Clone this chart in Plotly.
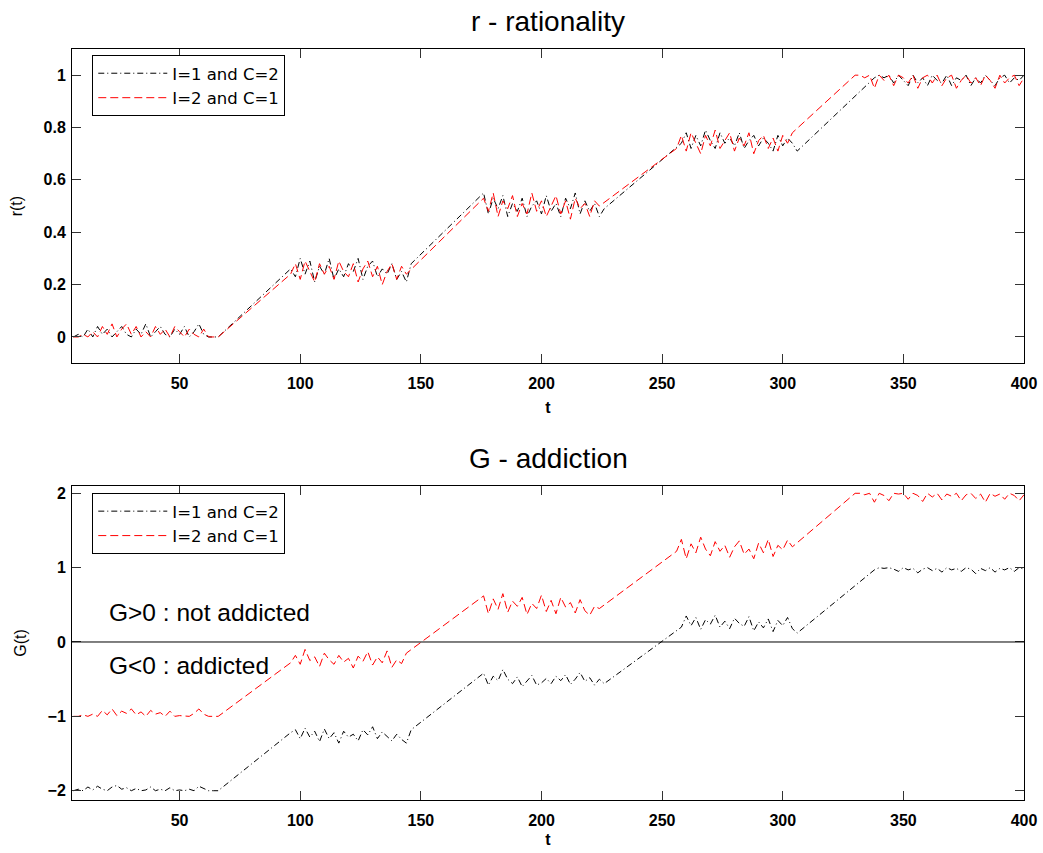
import plotly.graph_objects as go

# ---------------- data ----------------
T_BLACK = (list(range(6, 66, 2)) + [66] + list(range(96, 148, 2)) +
           list(range(176, 228, 2)) + list(range(258, 308, 2)) + list(range(338, 402, 2)))
T_RED = (list(range(6, 66, 2)) + [66] + list(range(96, 146, 2)) +
         list(range(176, 226, 2)) + list(range(256, 306, 2)) + list(range(330, 402, 2)))

R_BLACK = [
    0.00, 0.01, 0.00, 0.03, 0.00, 0.04, 0.01, 0.03, 0.00, 0.02, 0.04, 0.01, 0.00, 0.03, 0.01,
    0.05, 0.00, 0.02, 0.04, 0.01, 0.00, 0.03, 0.01, 0.04, 0.00, 0.02, 0.05, 0.01, 0.00, 0.00,
    0.00,
    0.26, 0.23, 0.30, 0.24, 0.29, 0.21, 0.27, 0.24, 0.30, 0.22, 0.26, 0.23, 0.28, 0.25, 0.30,
    0.22, 0.27, 0.29, 0.23, 0.26, 0.24, 0.28, 0.22, 0.25, 0.21, 0.28,
    0.55, 0.47, 0.53, 0.49, 0.54, 0.46, 0.51, 0.48, 0.53, 0.46, 0.50, 0.52, 0.47, 0.54, 0.48,
    0.51, 0.46, 0.53, 0.49, 0.55, 0.47, 0.52, 0.48, 0.51, 0.46, 0.49,
    0.74, 0.78, 0.72, 0.77, 0.73, 0.79, 0.75, 0.72, 0.78, 0.74, 0.76, 0.73, 0.78, 0.72, 0.75,
    0.77, 0.73, 0.76, 0.74, 0.71, 0.77, 0.73, 0.76, 0.74, 0.71,
    0.99, 1.00, 0.99, 1.00, 0.97, 1.00, 0.98, 0.96, 1.00, 0.97, 0.99, 0.96, 1.00, 0.98, 0.97,
    1.00, 0.96, 0.99, 0.98, 1.00, 0.96, 0.99, 0.97, 1.00, 0.98, 0.96, 0.99, 1.00, 0.97, 0.99,
    0.98, 1.00,
]
R_RED = [
    0.00, 0.00, 0.01, 0.00, 0.02, 0.00, 0.04, 0.01, 0.05, 0.00, 0.03, 0.05, 0.01, 0.04, 0.00,
    0.02, 0.00, 0.04, 0.01, 0.03, 0.00, 0.04, 0.02, 0.00, 0.03, 0.01, 0.00, 0.03, 0.00, 0.00,
    0.00,
    0.24, 0.28, 0.22, 0.29, 0.25, 0.21, 0.28, 0.24, 0.27, 0.22, 0.29, 0.25, 0.23, 0.28, 0.21,
    0.26, 0.29, 0.23, 0.27, 0.20, 0.25, 0.28, 0.22, 0.27, 0.24,
    0.53, 0.48, 0.55, 0.46, 0.52, 0.49, 0.54, 0.46, 0.51, 0.47, 0.55, 0.48, 0.52, 0.46, 0.50,
    0.54, 0.47, 0.52, 0.45, 0.53, 0.49, 0.51, 0.46, 0.52, 0.50,
    0.72, 0.77, 0.71, 0.78, 0.74, 0.70, 0.77, 0.73, 0.79, 0.72, 0.75, 0.78, 0.71, 0.76, 0.73,
    0.78, 0.70, 0.75, 0.77, 0.72, 0.76, 0.71, 0.77, 0.74, 0.78,
    1.00, 1.00, 0.99, 1.00, 0.95, 1.00, 0.98, 1.00, 0.96, 1.00, 0.99, 0.97, 1.00, 0.95, 0.99,
    1.00, 0.97, 1.00, 0.96, 0.99, 1.00, 0.95, 0.98, 1.00, 0.97, 0.99, 0.96, 1.00, 0.98, 0.95,
    1.00, 0.97, 0.99, 1.00, 0.96, 0.99,
]
G_BLACK = [
    -2.00, -1.98, -2.00, -1.95, -1.99, -1.94, -1.98, -2.00, -1.95, -1.93, -1.98, -1.96, -2.00, -1.97, -2.00,
    -1.99, -1.95, -2.00, -1.98, -2.00, -1.96, -2.00, -1.99, -2.00, -1.98, -2.00, -1.94, -1.97, -2.00, -2.00,
    -2.00,
    -1.22, -1.18, -1.30, -1.16, -1.28, -1.20, -1.34, -1.17, -1.30, -1.22, -1.36, -1.20, -1.28, -1.24, -1.33,
    -1.18, -1.25, -1.14, -1.30, -1.21, -1.27, -1.33, -1.24, -1.31, -1.36, -1.18,
    -0.42, -0.58, -0.46, -0.52, -0.37, -0.50, -0.56, -0.47, -0.60, -0.52, -0.45, -0.58, -0.55, -0.49, -0.56,
    -0.46, -0.52, -0.44, -0.57, -0.50, -0.41, -0.53, -0.48, -0.58, -0.50, -0.56,
    0.20, 0.35, 0.22, 0.33, 0.17, 0.30, 0.24, 0.36, 0.20, 0.28, 0.18, 0.32, 0.25, 0.21, 0.34,
    0.15, 0.27, 0.19, 0.31, 0.14, 0.29, 0.22, 0.33, 0.18, 0.12,
    0.97, 1.00, 0.99, 1.00, 0.98, 0.95, 1.00, 0.97, 0.99, 0.93, 0.98, 1.00, 0.96, 0.99, 0.94,
    1.00, 0.97, 0.99, 0.95, 1.00, 0.98, 0.92, 0.99, 0.96, 1.00, 0.94, 0.99, 0.97, 1.00, 0.95,
    1.00, 0.98,
]
G_RED = [
    -1.00, -1.00, -0.98, -1.00, -0.97, -1.00, -0.92, -0.98, -0.90, -0.99, -0.93, -0.96, -0.90, -0.98, -0.94,
    -1.00, -0.92, -0.97, -0.95, -1.00, -0.93, -1.00, -0.99, -1.00, -1.00, -0.96, -0.90, -0.97, -1.00, -1.00,
    -1.00,
    -0.28, -0.18, -0.30, -0.10, -0.25, -0.20, -0.33, -0.15, -0.24, -0.30, -0.18, -0.27, -0.22, -0.35, -0.19,
    -0.26, -0.13, -0.31, -0.20, -0.28, -0.12, -0.34, -0.24, -0.29, -0.15,
    0.62, 0.38, 0.58, 0.44, 0.65, 0.40, 0.55, 0.48, 0.60, 0.37, 0.52, 0.45, 0.63, 0.41, 0.56,
    0.38, 0.60, 0.47, 0.53, 0.39, 0.57, 0.42, 0.36, 0.48, 0.45,
    1.22, 1.38, 1.12, 1.32, 1.20, 1.41, 1.25, 1.16, 1.35, 1.22, 1.30, 1.14, 1.28, 1.36, 1.18,
    1.25, 1.12, 1.33, 1.20, 1.38, 1.15, 1.30, 1.24, 1.37, 1.28,
    2.00, 2.00, 1.98, 2.00, 1.88, 2.00, 1.97, 1.90, 2.00, 1.99, 2.00, 1.92, 2.00, 1.97, 1.89,
    2.00, 1.95, 2.00, 1.91, 1.99, 1.96, 2.00, 1.90, 1.98, 2.00, 1.93, 1.99, 1.88, 2.00, 1.96,
    1.99, 1.92, 2.00, 1.97, 1.90, 1.98,
]

NAME_BLACK = "I=1 and C=2"
NAME_RED = "I=2 and C=1"
X_TICKS = [50, 100, 150, 200, 250, 300, 350, 400]
R_TICKS = [0, 0.2, 0.4, 0.6, 0.8, 1]
G_TICKS = [-2, -1, 0, 1, 2]

# ---------------- figure ----------------
FONT = "Liberation Sans, Arial, sans-serif"
LEG_FONT = "DejaVu Sans, Liberation Sans, sans-serif"
BLACK_DASH = "6px,3px,1px,3px"
RED_DASH = "8px,4px"

fig = go.Figure()
fig.add_trace(go.Scatter(x=T_BLACK, y=R_BLACK, mode="lines", name=NAME_BLACK,
                         line=dict(color="black", width=1, dash=BLACK_DASH),
                         xaxis="x", yaxis="y", legend="legend"))
fig.add_trace(go.Scatter(x=T_RED, y=R_RED, mode="lines", name=NAME_RED,
                         line=dict(color="red", width=1, dash=RED_DASH),
                         xaxis="x", yaxis="y", legend="legend"))
fig.add_trace(go.Scatter(x=T_BLACK, y=G_BLACK, mode="lines", name=NAME_BLACK,
                         line=dict(color="black", width=1, dash=BLACK_DASH),
                         xaxis="x2", yaxis="y2", legend="legend2"))
fig.add_trace(go.Scatter(x=T_RED, y=G_RED, mode="lines", name=NAME_RED,
                         line=dict(color="red", width=1, dash=RED_DASH),
                         xaxis="x2", yaxis="y2", legend="legend2"))

top_dom = [0.5817, 1.0]
bot_dom = [0.0, 0.4183]

axis_common = dict(showgrid=False, zeroline=False, showline=True, linecolor="black",
                   linewidth=1, mirror="ticks", ticks="inside", ticklen=9,
                   tickcolor="#333333", tickwidth=1, automargin=False,
                   tickfont=dict(family=FONT, size=16, color="black", weight="bold"))

legend_common = dict(xanchor="left", yanchor="top", bgcolor="white",
                     bordercolor="black", borderwidth=1, itemwidth=69,
                     font=dict(family=LEG_FONT, size=16.5, color="black"),
                     tracegroupgap=0)

fig.update_layout(
    width=1043, height=853,
    margin=dict(l=72, r=19, t=49, b=53, autoexpand=False),
    paper_bgcolor="white", plot_bgcolor="white",
    font=dict(family=FONT, color="black"),
    xaxis=dict(domain=[0, 1], range=[5.4, 400.01], tickvals=X_TICKS, anchor="y",
               ticklabelstandoff=6,
               title=dict(text="t", font=dict(size=16, weight="bold"), standoff=10),
               **axis_common),
    yaxis=dict(domain=top_dom, range=[-0.1, 1.1], tickvals=R_TICKS, anchor="x",
               ticklabelstandoff=2,
               title=dict(text="r(t)", font=dict(size=16), standoff=16),
               **axis_common),
    xaxis2=dict(domain=[0, 1], range=[5.4, 400.01], tickvals=X_TICKS, anchor="y2",
                ticklabelstandoff=6,
                title=dict(text="t", font=dict(size=16, weight="bold"), standoff=5),
                **axis_common),
    yaxis2=dict(domain=bot_dom, range=[-2.125, 2.1], tickvals=G_TICKS, anchor="x2",
                ticklabelstandoff=2,
                title=dict(text="G(t)", font=dict(size=16), standoff=16),
                **axis_common),
    legend=dict(x=0.0213, y=0.992, **legend_common),
    legend2=dict(x=0.0213, y=0.4089, **legend_common),
    showlegend=True,
)

fig.add_shape(type="line", xref="x2 domain", yref="y2", x0=0, x1=1, y0=0, y1=0,
              line=dict(color="black", width=1))

fig.add_annotation(text="r - rationality", xref="paper", yref="paper", x=0.5, y=1.0,
                   yshift=10, xanchor="center", yanchor="bottom", showarrow=False,
                   font=dict(family=FONT, size=28, color="black"))
fig.add_annotation(text="G - addiction", xref="paper", yref="paper", x=0.5, y=bot_dom[1],
                   yshift=10, xanchor="center", yanchor="bottom", showarrow=False,
                   font=dict(family=FONT, size=28, color="black"))
fig.add_annotation(text="G>0 : not addicted", xref="x2", yref="y2", x=20, y=0.39,
                   xanchor="left", yanchor="middle", showarrow=False,
                   font=dict(family=FONT, size=24.5, color="black"))
fig.add_annotation(text="G<0 : addicted", xref="x2", yref="y2", x=20, y=-0.31,
                   xanchor="left", yanchor="middle", showarrow=False,
                   font=dict(family=FONT, size=24.5, color="black"))

fig.write_html(
    "out.html",
    config={"displayModeBar": False},
    post_script="document.body.style.margin='0';document.documentElement.style.overflow='hidden';",
)
